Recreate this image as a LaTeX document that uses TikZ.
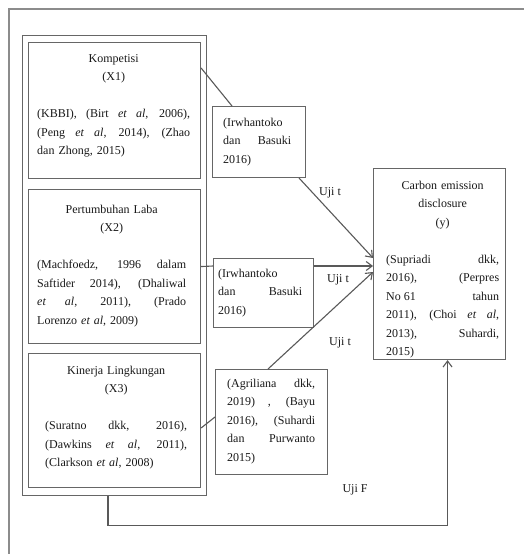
\documentclass[tikz,border=0pt]{standalone}
\usepackage{fontspec}
\setmainfont{Liberation Serif}
\usetikzlibrary{arrows.meta}
\newcommand\jl[1]{\makebox[\linewidth][s]{\spaceskip=\fontdimen2\font plus 1fil\relax\xspaceskip=0pt\relax #1}}
\newcommand\cl[1]{\makebox[\linewidth][c]{#1}}
\begin{document}
\begin{tikzpicture}[x=1pt,y=-1pt,
  lc/.style={draw=black!60, line width=1.1pt},
  boxr/.style={lc, rectangle, inner sep=0pt, anchor=north west},
  txt/.style={anchor=base west, inner sep=0pt, align=left, font=\fontsize{12}{18.5}\selectfont, text=black!90},
  lbl/.style={inner sep=0pt, font=\fontsize{12}{14}\selectfont, text=black!90},
  conn/.style={draw=black!65, line width=1.1pt},
  arr/.style={conn, -{Straight Barb[length=6pt,width=9pt]}},
]
\useasboundingbox (0,0) rectangle (524,554);
\fill[white] (0,0) rectangle (524,554);
\draw[draw=black!45, line width=1.3pt] (9,554) -- (9,9) -- (524,9);

% boxes
\node[boxr, minimum width=184pt, minimum height=460pt] (g) at (22,35) {};
\node[boxr, minimum width=172pt, minimum height=136pt] (b1) at (28,42) {};
\node[boxr, minimum width=172pt, minimum height=154pt] (b2) at (28,189) {};
\node[boxr, minimum width=172pt, minimum height=134pt] (b3) at (28,353) {};
\node[boxr, minimum width=93pt, minimum height=71pt] (c1) at (212,106) {};
\node[boxr, minimum width=100pt, minimum height=69pt] (c2) at (213,258) {};
\node[boxr, minimum width=112pt, minimum height=105pt] (c3) at (215,369) {};
\node[boxr, minimum width=132pt, minimum height=191pt] (t) at (373,168) {};

% texts
\node[txt, text width=153pt] (b1t) at (37,62) {\cl{Kompetisi}\\\cl{(X1)}\\[18.5pt]
\jl{(KBBI), (Birt \textit{et al}, 2006),}\\\jl{(Peng \textit{et al}, 2014), (Zhao}\\dan Zhong, 2015)};
\node[txt, text width=149pt] (b2t) at (37,213) {\cl{Pertumbuhan Laba}\\\cl{(X2)}\\[18.5pt]
\jl{(Machfoedz, 1996 dalam}\\\jl{Saftider 2014), (Dhaliwal}\\\jl{\textit{et al}, 2011), (Prado}\\Lorenzo \textit{et al}, 2009)};
\node[txt, text width=142pt] (b3t) at (45,374) {\cl{Kinerja Lingkungan}\\\cl{(X3)}\\[18.5pt]
\jl{(Suratno dkk, 2016),}\\\jl{(Dawkins \textit{et al}, 2011),}\\(Clarkson \textit{et al}, 2008)};
\node[txt, text width=68pt] (c1t) at (223,126) {(Irwhantoko\\\jl{dan Basuki}\\2016)};
\node[txt, text width=84pt] (c2t) at (218,277) {(Irwhantoko\\\jl{dan Basuki}\\2016)};
\node[txt, text width=88pt] (c3t) at (227,387) {\jl{(Agriliana dkk,}\\\jl{2019) , (Bayu}\\\jl{2016), (Suhardi}\\\jl{dan Purwanto}\\2015)};
\node[txt, text width=113pt] (tt) at (386,189) {\cl{Carbon emission}\\\cl{disclosure}\\\cl{(y)}\\[18.5pt]
\jl{(Supriadi dkk,}\\\jl{2016), (Perpres}\\\jl{\mbox{No 61} tahun}\\\jl{2011), (Choi \textit{et al},}\\\jl{2013), Suhardi,}\\2015)};

% connectors
\draw[conn] ([yshift=-26pt]b1.north east) -- ([xshift=20pt]c1.north west);
\draw[arr] ([xshift=-7pt]c1.south east) -- ([yshift=-90pt]t.north west);
\draw[conn] (b2.east) -- ([yshift=-8pt]c2.north west);
\draw[arr] ([yshift=-8pt]c2.north east) -- ([yshift=-98pt]t.north west);
\draw[conn] ([yshift=-75pt]b3.north east) -- ([yshift=-48pt]c3.north west);
\draw[arr] ([xshift=53pt]c3.north west) -- ([yshift=-104pt]t.north west);
\draw[arr] ([xshift=86pt]g.south west) -- ++(0,29) -| ([xshift=8pt]t.south);

% labels
\node[lbl] (u1) at (330,193) {Uji t};
\node[lbl] (u2) at (338,280) {Uji t};
\node[lbl] (u3) at (340,343) {Uji t};
\node[lbl] (uf) at (355,490) {Uji F};
\end{tikzpicture}
\end{document}
